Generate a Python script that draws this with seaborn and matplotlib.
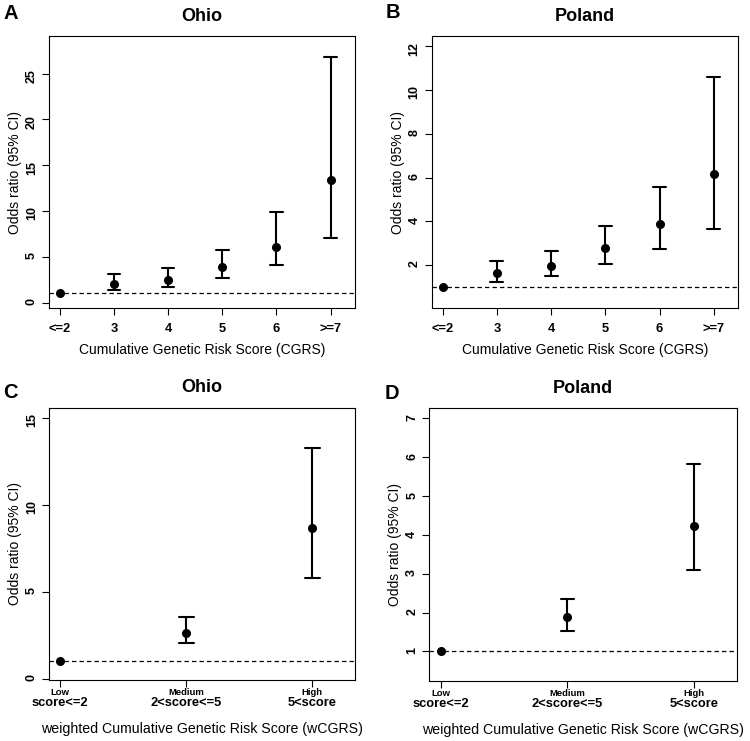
import pandas as pd
import matplotlib
matplotlib.use("Agg")
import matplotlib.pyplot as plt
import seaborn as sns

# Odds ratios (95% CI)
cgrs_groups = ["<=2", "3", "4", "5", "6", ">=7"]
ohio_or = [1.0, 2.04, 2.48, 3.83, 6.12, 13.41]
ohio_lo = [None, 1.38, 1.75, 2.66, 4.05, 7.03]
ohio_hi = [None, 3.10, 3.75, 5.79, 9.84, 26.86]

poland_or = [1.0, 1.62, 1.98, 2.77, 3.86, 6.15]
poland_lo = [None, 1.22, 1.50, 2.03, 2.73, 3.66]
poland_hi = [None, 2.21, 2.64, 3.77, 5.56, 10.58]

wcgrs_groups = ["Low", "Medium", "High"]
wcgrs_ranges = ["score<=2", "2<score<=5", "5<score"]
ohio_w_or = [1.0, 2.65, 8.65]
ohio_w_lo = [None, 2.02, 5.79]
ohio_w_hi = [None, 3.56, 13.25]

poland_w_or = [1.0, 1.89, 4.23]
poland_w_lo = [None, 1.52, 3.09]
poland_w_hi = [None, 2.36, 5.83]

sns.set_style("ticks")
plt.rcParams['font.family'] = ['Liberation Sans', 'DejaVu Sans']
plt.rcParams['axes.edgecolor'] = 'black'
plt.rcParams['axes.linewidth'] = 0.8
plt.rcParams['text.color'] = 'black'
plt.rcParams['axes.labelcolor'] = 'black'
plt.rcParams['xtick.color'] = 'black'
plt.rcParams['ytick.color'] = 'black'


def long_table(groups, est, lo, hi):
    # lower / estimate / upper as rows; median + full percentile range gives OR and CI
    rows = []
    for g, e, l, h in zip(groups, est, lo, hi):
        for v in (l, e, h):
            if v is not None:
                rows.append({"group": g, "OR": v})
    return pd.DataFrame(rows)


def draw(ax, df, groups, title, ylim, yticks, xlim, capsize):
    sns.pointplot(data=df, x="group", y="OR", order=groups, estimator="median",
                  errorbar=("pi", 100), capsize=capsize, color="black",
                  linestyle="none", markersize=5.5, markeredgewidth=1,
                  err_kws={"linewidth": 1.5}, ax=ax)
    ax.axhline(1, color="black", lw=0.9, ls=(0, (3.5, 2.5)), zorder=0)
    ax.set_xlim(*xlim)
    ax.set_ylim(*ylim)
    ax.set_yticks(yticks)
    ax.set_title(title, fontsize=13, fontweight="bold", pad=11)
    ax.set_ylabel("Odds ratio (95% CI)", fontsize=10)
    ax.yaxis.set_label_coords(-0.088, 0.5)
    ax.tick_params(axis="both", direction="out", length=5, width=0.8, color="black")
    ax.tick_params(axis="y", labelrotation=90, pad=3, labelsize=9)
    for lab in ax.get_yticklabels() + ax.get_xticklabels():
        lab.set_fontweight("bold")


fig = plt.figure(figsize=(7.5, 7.41))
axA = fig.add_axes([0.0653, 0.5843, 0.408, 0.367])
axB = fig.add_axes([0.5756, 0.5843, 0.4088, 0.367])
axC = fig.add_axes([0.0653, 0.0823, 0.408, 0.3675])
axD = fig.add_axes([0.5724, 0.0810, 0.410, 0.368])

draw(axA, long_table(cgrs_groups, ohio_or, ohio_lo, ohio_hi), cgrs_groups,
     "Ohio", (-0.6, 29.1), [0, 5, 10, 15, 20, 25], (-0.2, 5.45), 0.23)
draw(axB, long_table(cgrs_groups, poland_or, poland_lo, poland_hi), cgrs_groups,
     "Poland", (0.04, 12.46), [2, 4, 6, 8, 10, 12], (-0.2, 5.45), 0.24)
draw(axC, long_table(wcgrs_groups, ohio_w_or, ohio_w_lo, ohio_w_hi), wcgrs_groups,
     "Ohio", (-0.08, 15.58), [0, 5, 10, 15], (-0.09, 2.34), 0.12)
draw(axD, long_table(wcgrs_groups, poland_w_or, poland_w_lo, poland_w_hi), wcgrs_groups,
     "Poland", (0.24, 7.26), [1, 2, 3, 4, 5, 6, 7], (-0.09, 2.34), 0.1)

for ax in (axA, axB):
    ax.tick_params(axis="x", pad=5.5, labelsize=9.3)
    ax.set_xlabel("Cumulative Genetic Risk Score (CGRS)", fontsize=10)
    ax.xaxis.set_label_coords(0.5, -0.129)

for ax in (axC, axD):
    ax.tick_params(axis="x", pad=0.5, labelsize=6.8)
    for i, rng in enumerate(wcgrs_ranges):
        ax.text(i, -0.0857, rng, transform=ax.get_xaxis_transform(),
                ha="center", va="center", fontsize=9.3, fontweight="bold")
    ax.set_xlabel("weighted Cumulative Genetic Risk Score (wCGRS)", fontsize=10.2)
    ax.xaxis.set_label_coords(0.5, -0.153)

for letter, x, y in [("A", 10.5, 13.5), ("B", 392.5, 12.5), ("C", 10, 393), ("D", 392, 393.5)]:
    fig.text(x / 750, 1 - y / 741, letter, fontsize=14.5, fontweight="bold",
             ha="center", va="center")

fig.savefig("out.png", dpi=100)
